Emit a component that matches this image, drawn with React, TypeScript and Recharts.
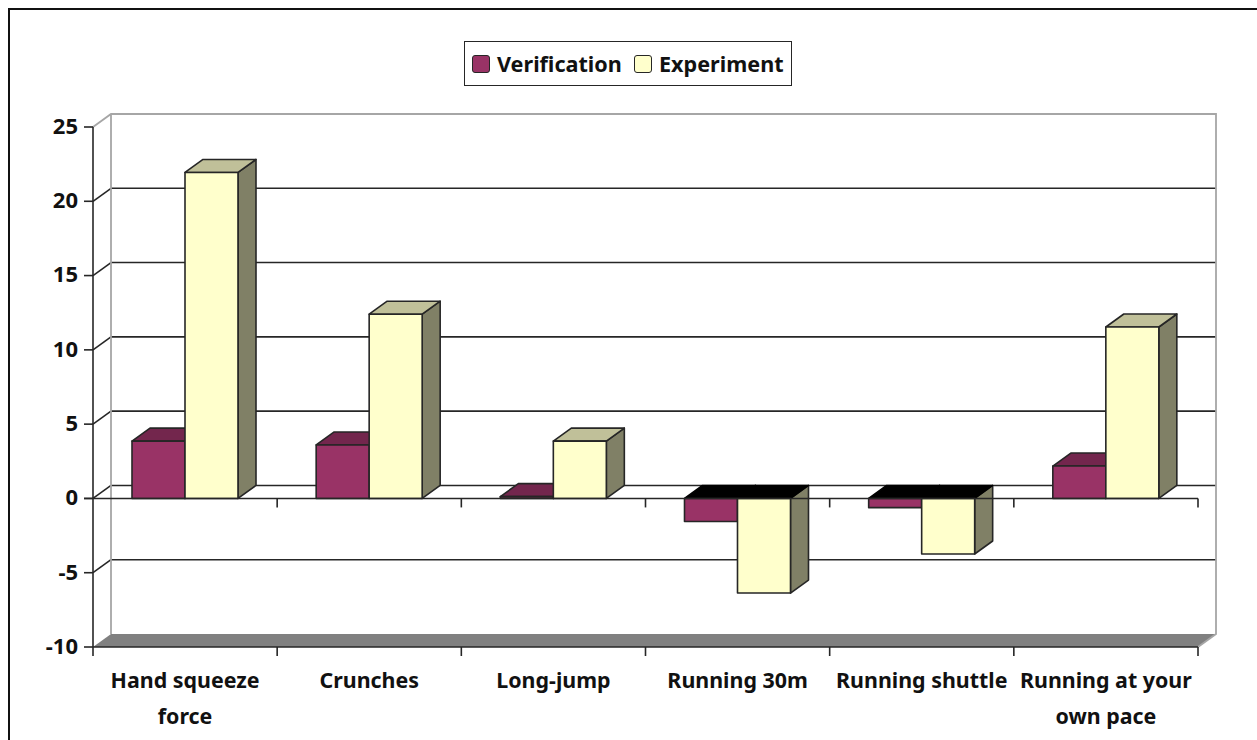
import React from "react";
import { BarChart, Bar, XAxis, YAxis, CartesianGrid, Legend, ReferenceArea, ReferenceLine } from "recharts";

const categoryLines = [
  ["Hand squeeze", "force"],
  ["Crunches"],
  ["Long-jump"],
  ["Running 30m"],
  ["Running shuttle"],
  ["Running at your", "own pace"],
];
const categories = categoryLines.map((l) => l.join(" "));
const verification = [3.86, 3.6, 0.12, -1.55, -0.62, 2.18];
const experiment = [21.94, 12.4, 3.86, -6.37, -3.74, 11.54];
const yTicks = [-10, -5, 0, 5, 10, 15, 20, 25];
const data = categories.map((name, i) => ({ name, verification: verification[i], experiment: experiment[i] }));

const W = 1257;
const H = 740;
const LEFT = 93;
const RIGHT = 1198;
const TOP = 127;
const BOTTOM = 647;
const DX = 18;
const DY = 13;
const BAND = (RIGHT - LEFT) / categories.length;
const FONT = "'Noto Sans', sans-serif";
const INK = "#262626";
const WALL = "#a6a6a6";
const SW = 1.6;

const box3d = (front: string, topFace: string, side: string) => (p: any) => {
  const { x, y, width: w, height: h, value } = p;
  const v = Array.isArray(value) ? value[1] : value;
  const a = Math.min(y, y + h);
  const b = Math.max(y, y + h);
  const neg = v < 0;
  const capY = a;
  return (
    <g stroke={INK} strokeWidth={SW} strokeLinejoin="round">
      <polygon points={`${x + w},${a} ${x + w + DX},${a - DY} ${x + w + DX},${b - DY} ${x + w},${b}`} fill={side} />
      <polygon
        points={`${x},${capY} ${x + DX},${capY - DY} ${x + w + DX},${capY - DY} ${x + w},${capY}`}
        fill={neg ? "#000000" : topFace}
        stroke={neg ? "#000000" : INK}
      />
      <rect x={x} y={a} width={w} height={b - a} fill={front} />
    </g>
  );
};

const gridLine = (p: any) => {
  const y = p.y1;
  if (y <= TOP + 1 || y >= BOTTOM - 1) return <g key={p.key} />;
  return (
    <g key={p.key} stroke={INK} strokeWidth={SW}>
      <line x1={LEFT} y1={y} x2={LEFT + DX} y2={y - DY} />
      <line x1={LEFT + DX} y1={y - DY} x2={RIGHT + DX} y2={y - DY} />
    </g>
  );
};

const Shell = (p: any) => {
  const { x, y, width, height } = p;
  const r = x + width;
  const b = y + height;
  return (
    <g>
      <polygon points={`${x},${b} ${x + DX},${b - DY} ${r + DX},${b - DY} ${r},${b}`} fill="#808080" />
      <path
        d={`M${x},${y} L${x + DX},${y - DY} L${r + DX},${y - DY} L${r + DX},${b - DY} L${r},${b} M${x + DX},${y - DY} L${x + DX},${b - DY}`}
        fill="none"
        stroke={WALL}
        strokeWidth={1.8}
      />
    </g>
  );
};

const ZeroLine = (p: any) => {
  const y = p.y1;
  const marks = categories.map((_, i) => LEFT + BAND * (i + 1));
  return (
    <g stroke={INK} strokeWidth={SW}>
      <line x1={LEFT - 9} y1={y} x2={RIGHT} y2={y} />
      {marks.map((mx) => (
        <line key={mx} x1={mx} y1={y} x2={mx} y2={y + 9} />
      ))}
    </g>
  );
};

const XTick = (p: any) => {
  const { x, index } = p;
  const lines = categoryLines[index] || [];
  const left = x - BAND / 2;
  return (
    <g>
      {index === 0 && <line x1={left} y1={BOTTOM} x2={left} y2={BOTTOM + 9} stroke={INK} strokeWidth={SW} />}
      <line x1={left + BAND} y1={BOTTOM} x2={left + BAND} y2={BOTTOM + 9} stroke={INK} strokeWidth={SW} />
      {lines.map((t: string, i: number) => (
        <text key={t} x={x} y={BOTTOM + 41 + i * 36} textAnchor="middle" fontFamily={FONT} fontWeight={700} fontSize={21.4} fill="#111">
          {t}
        </text>
      ))}
    </g>
  );
};

const LegendBox = ({ payload }: any) => (
  <div
    style={{
      width: 328,
      height: 45,
      boxSizing: "border-box",
      border: `1.5px solid ${INK}`,
      background: "#fff",
      display: "flex",
      alignItems: "center",
      paddingLeft: 7,
      fontFamily: FONT,
      fontWeight: 700,
      fontSize: 21.6,
      color: "#111",
      whiteSpace: "nowrap",
    }}
  >
    {(payload || []).map((e: any, i: number) => (
      <React.Fragment key={e.value}>
        <span
          style={{
            width: 18,
            height: 18,
            boxSizing: "border-box",
            border: `1.5px solid ${INK}`,
            borderRadius: 3,
            background: e.color,
            marginLeft: i ? 13 : 0,
            marginRight: 7,
            flex: "none",
          }}
        />
        <span style={{ width: i ? 125 : 124, flex: "none" }}>{e.value}</span>
      </React.Fragment>
    ))}
  </div>
);

export default function App() {
  return (
    <div style={{ position: "absolute", left: 0, top: 0, width: W, height: H, overflow: "hidden", background: "#fff" }}>
      <div
        style={{
          position: "absolute",
          left: 8,
          top: 8,
          width: W,
          height: H,
          borderLeft: "2px solid #111",
          borderTop: "2px solid #111",
        }}
      />
      <BarChart
        width={W}
        height={H}
        data={data}
        barSize={53}
        barGap={0}
        margin={{ top: TOP, right: W - RIGHT, bottom: 0, left: 0 }}
        style={{ position: "absolute", left: 0, top: 0 }}
      >
        <CartesianGrid horizontal={gridLine} vertical={false} />
        <ReferenceArea y1={-10} y2={25} ifOverflow="visible" shape={Shell} />
        <XAxis
          dataKey="name"
          height={H - BOTTOM}
          interval={0}
          tickLine={false}
          axisLine={{ stroke: INK, strokeWidth: SW }}
          tick={XTick}
        />
        <YAxis
          width={LEFT}
          domain={[-10, 25]}
          ticks={yTicks}
          interval={0}
          tickSize={9}
          tickMargin={6}
          axisLine={{ stroke: INK, strokeWidth: SW }}
          tickLine={{ stroke: INK, strokeWidth: SW }}
          tick={{ fontFamily: FONT, fontWeight: 700, fontSize: 22, fill: "#111", dy: -1 }}
        />
        <Legend
          layout="vertical"
          align="center"
          verticalAlign="middle"
          itemSorter={null}
          content={LegendBox}
          wrapperStyle={{ left: 464, top: 41, width: 328, height: 45, right: "auto", bottom: "auto" }}
        />
        <Bar dataKey="verification" name="Verification" fill="#993366" isAnimationActive={false} shape={box3d("#993366", "#73264d", "#73264d")} />
        <Bar dataKey="experiment" name="Experiment" fill="#ffffcc" isAnimationActive={false} shape={box3d("#ffffcc", "#c0c099", "#808066")} />
        <ReferenceLine y={0} ifOverflow="visible" shape={ZeroLine} />
      </BarChart>
    </div>
  );
}
